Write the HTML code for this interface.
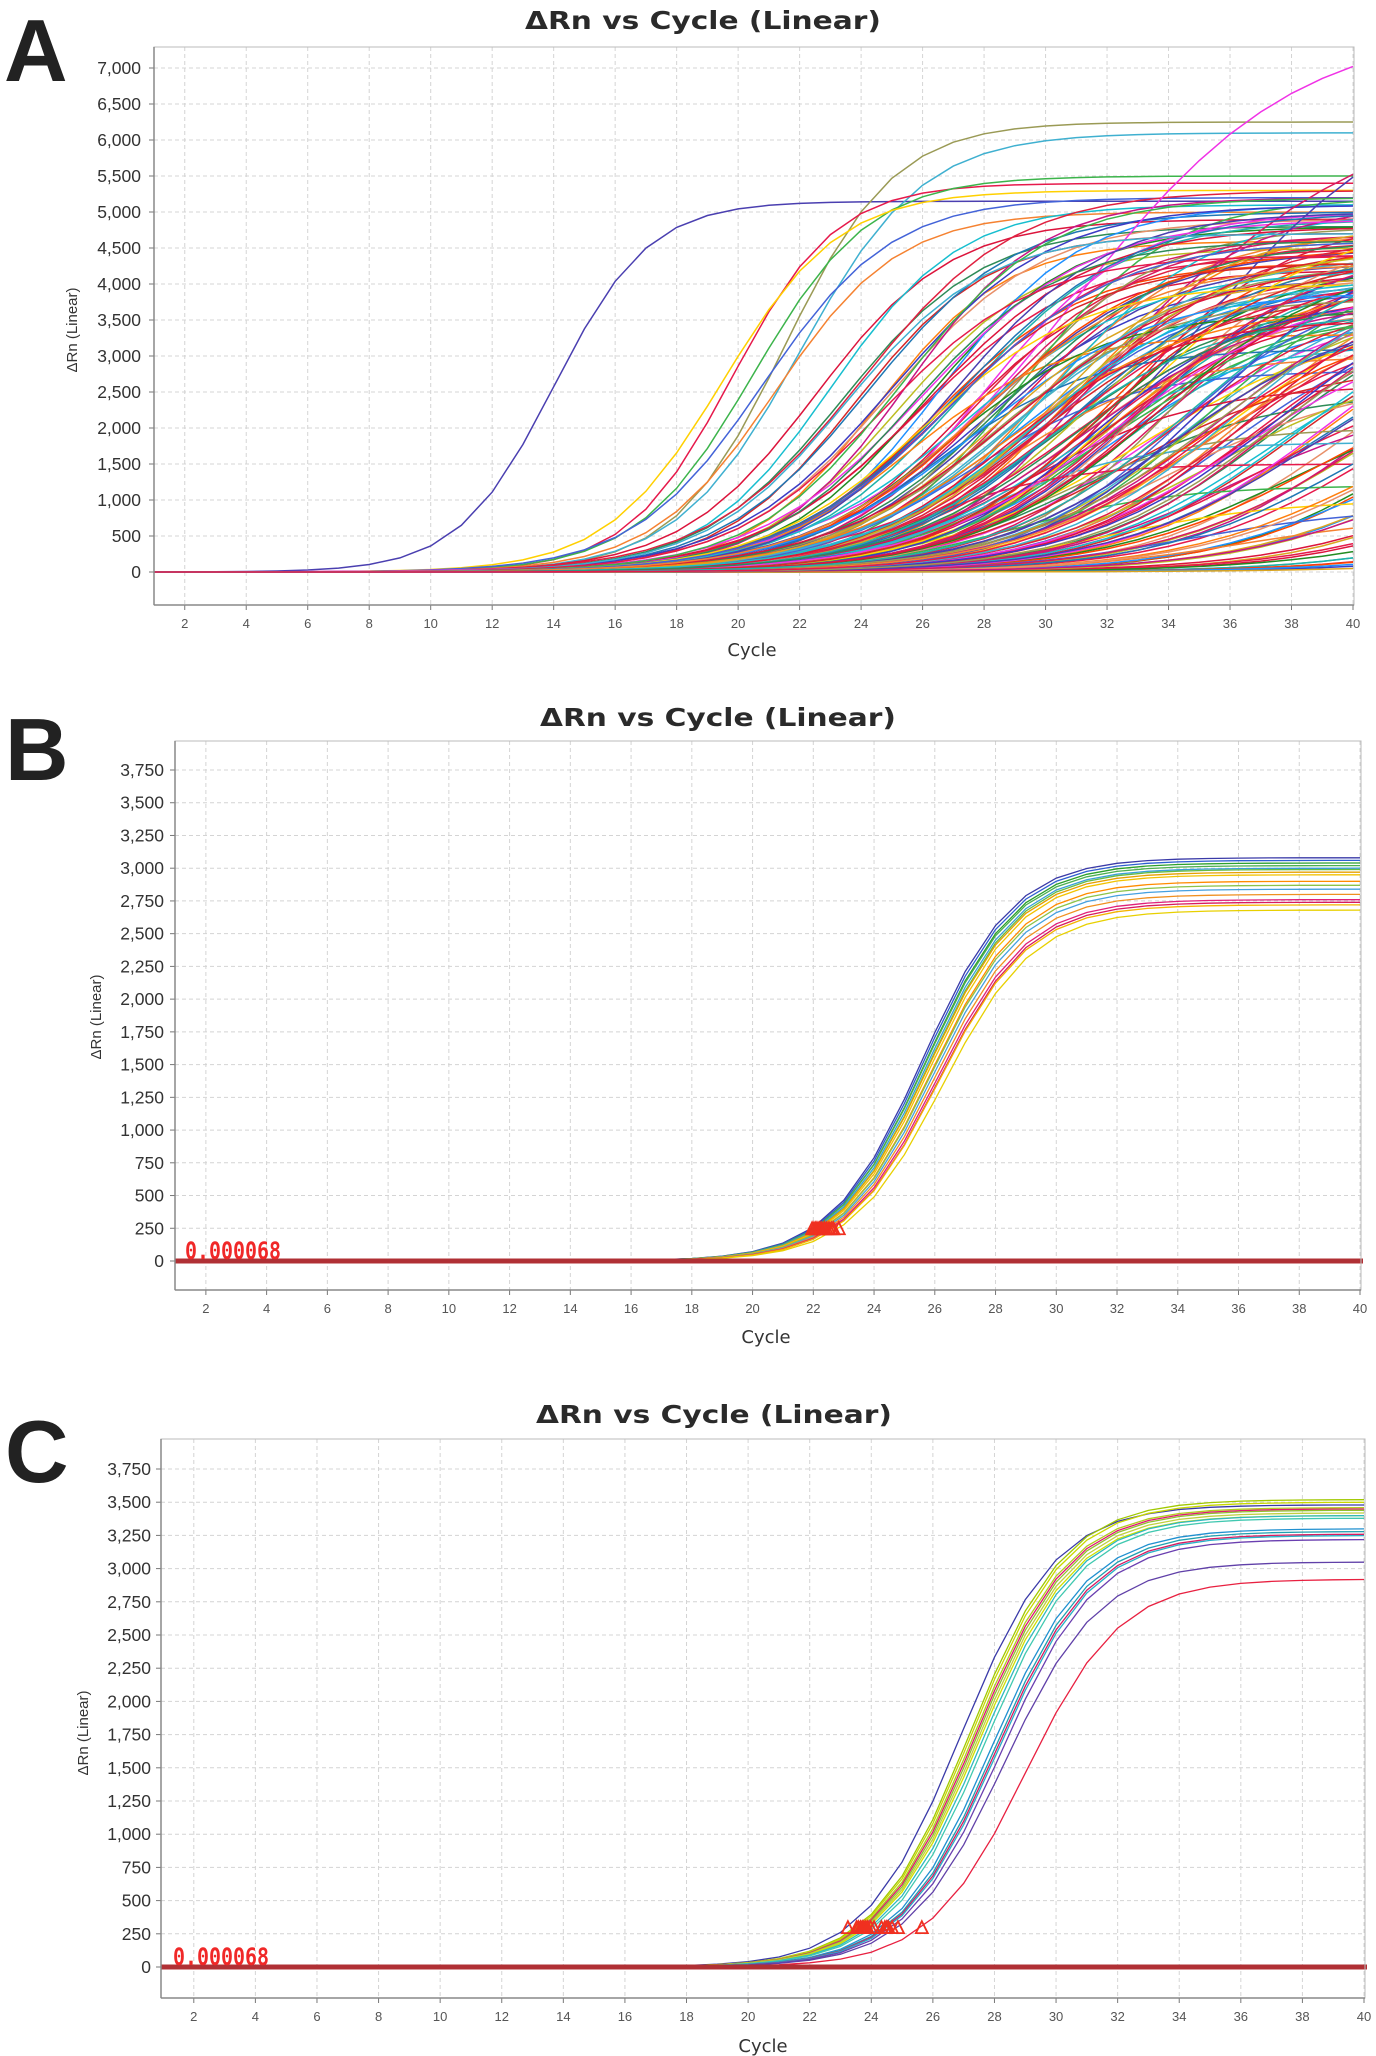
<!DOCTYPE html>
<html><head><meta charset="utf-8"><style>
html,body{margin:0;padding:0;background:#fff;}
svg{display:block;}
</style></head><body>
<svg id="fig" width="1376" height="2056" viewBox="0 0 1376 2056" xmlns="http://www.w3.org/2000/svg" font-family="Liberation Sans, sans-serif">
<rect width="1376" height="2056" fill="#fff"/>
</svg>
<script>
// ---------- Panel A data (per-curve sigmoid parameters) ----------
const yTicksA = [0,500,1000,1500,2000,2500,3000,3500,4000,4500,5000,5500,6000,6500,7000];
const xTickLabels = [2,4,6,8,10,12,14,16,18,20,22,24,26,28,30,32,34,36,38,40];
const ctA = [14.0,21.5,22.0,19.8,20.5,19.5,20.8,21.2,22.5,23.0,
23.4,23.8,24.2,24.5,24.9,25.2,25.5,25.8,26.1,26.3,
26.6,26.9,27.1,27.3,27.6,27.8,28.0,28.2,28.4,28.6,
28.8,29.0,29.2,29.4,29.5,29.7,29.9,30.1,30.3,30.5,
30.6,30.8,31.0,31.2,31.4,31.6,31.8,32.0,32.2,32.4,
32.6,32.8,33.0,33.2,33.5,33.8,34.1,34.4,34.7,35.0,
35.3,35.6,36.0,36.4,36.8,37.2,37.6,38.0,38.5,39.0,
39.5,40.0,40.6,41.2,42.0,43.0,44.0,45.5,47.0,49.0,
24.0,25.0,26.0,27.0,28.0,29.0,30.0,31.0,32.0,33.0,
27.5,28.5,29.5,30.5,31.5,32.5,26.5,25.5,34.0,35.5,
36.0,37.0,38.0,39.0,40.5,42.5,45.0,48.0,50.0,52.0,
31.0,33.0,35.0,30.0,28.0,26.0,29.0,32.0,34.5,36.5,
26.2,27.4,28.6,29.8,31.0,32.2,33.4,34.6,35.8,37.0,
26.8,28.0,29.2,30.4,31.6,32.8,34.0,35.2,36.4,37.6,
27.0,28.2,29.4,30.6,31.8,33.0,34.2,35.4,36.6,38.2,
25.6,26.4,27.2,28.8,29.6,30.2,31.2,32.6,33.6,34.8,
27.8,28.4,29.0,29.9,30.8,31.5,32.3,33.1,34.3,35.6,
23.5,24.6,25.3,26.0,26.9,27.7,28.7,29.7,30.9,31.9,
40.0,41.0,42.0,43.0,44.0,46.0,48.0,50.0,52.0,55.0,
33.3,34.9,36.2,37.8,39.2,40.8,38.8,37.4,36.1,35.1];
const plateauA = [5150,6250,6100,5400,5500,5300,5200,5000,4900,5100,
4800,4700,5000,4600,4900,4500,5200,4400,4800,4300,
5100,4600,4200,4900,4500,4100,5000,4700,4300,4800,
4000,4600,5200,4400,3900,4700,4200,5000,3800,4500,
4100,4800,3700,4400,5100,3900,4300,4600,3600,4200,
4900,3800,4100,4500,3700,4300,3600,4800,4000,3500,
4400,3900,3600,4200,3800,3400,4000,3700,3500,3900,
3600,3300,3800,3500,3200,3700,3400,3300,3600,3200,
5300,5100,4900,4700,4500,4300,4100,3900,3700,3500,
2800,3000,2600,3200,2500,2900,3100,3300,2700,3000,
2400,2800,2600,3000,2200,2500,2700,2400,2600,2300,
7600,6400,6800,2000,1800,1500,1200,1000,900,800,
4800,4200,4600,3900,4400,4100,4700,3800,4300,4000,
3600,4500,4000,4800,3700,4300,3900,4600,3500,4100,
5000,3800,4400,4100,3600,4900,4000,3700,4200,3900,
4600,4300,5000,3700,4100,4500,3800,4200,4400,3600,
3900,4100,4300,3600,4700,3800,4000,4500,3700,4200,
4700,4400,5200,4000,4600,4300,3500,4100,3800,4400,
3000,2800,3200,2600,3000,2700,2900,2500,2800,2600,
4200,4600,3900,4400,4100,3800,3600,4000,4300,3700];
const slopeA = [1.55,1.8,2.0,1.7,1.9,1.9,2.1,2.0,2.2,2.1,
2.3,2.2,2.4,2.1,2.5,2.3,2.2,2.6,2.4,2.5,
2.3,2.7,2.4,2.6,2.5,2.8,2.4,2.6,2.7,2.5,
2.8,2.6,2.4,2.9,2.7,2.5,2.8,2.6,3.0,2.7,
2.9,2.6,3.0,2.8,2.5,3.0,2.8,2.7,3.1,2.9,
2.6,3.0,2.8,2.9,3.1,2.8,3.0,2.7,3.0,3.2,
2.9,3.1,3.0,2.9,3.2,3.0,3.1,3.0,3.2,3.1,
3.0,3.2,3.1,3.3,3.0,3.2,3.3,3.1,3.2,3.3,
2.5,2.6,2.7,2.8,2.9,3.0,3.1,3.2,3.3,3.4,
2.6,2.7,2.8,2.9,3.0,3.1,2.5,2.4,3.2,3.3,
3.0,3.1,3.2,3.3,3.0,3.2,3.4,3.3,3.5,3.6,
3.6,3.8,3.5,2.5,2.4,2.3,2.6,2.8,3.0,3.0,
2.7,2.9,2.8,3.0,2.9,3.1,2.8,3.0,3.2,3.1,
2.6,2.8,3.0,2.7,2.9,3.1,3.0,2.8,3.2,3.0,
2.5,2.7,2.9,3.1,2.8,3.0,2.6,3.2,2.9,3.1,
2.4,2.6,2.8,3.0,2.7,2.9,3.1,2.8,3.0,3.2,
2.9,2.7,3.1,2.8,3.0,2.6,3.2,2.9,3.1,3.3,
2.3,2.5,2.4,2.6,2.7,2.8,2.6,2.9,3.0,2.8,
3.2,3.3,3.4,3.2,3.5,3.4,3.6,3.5,3.7,3.8,
3.0,3.2,3.1,3.3,3.2,3.4,3.3,3.1,3.0,2.9];

// ---------- Panel B data ----------
const yTicksB = [0,250,500,750,1000,1250,1500,1750,2000,2250,2500,2750,3000,3250,3500,3750];
const midB = [25.6,25.65,25.7,25.7,25.75,25.8,25.8,25.85,25.9,25.9,25.95,26.0,26.05,26.1,26.1,26.25];
const plateauB = [3080,3060,3040,3020,3000,2990,2970,2950,2900,2870,2840,2800,2760,2740,2720,2680];
const thresholdB = 250;

// ---------- Panel C data ----------
const yTicksC = yTicksB;
const midC = [26.9,27.2,27.25,27.3,27.35,27.4,27.45,27.5,27.6,27.7,27.9,28.0,28.05,28.1,28.2,28.3,29.0];
const plateauC = [3480,3520,3500,3460,3450,3440,3420,3400,3400,3380,3300,3280,3260,3250,3220,3050,2920];
const thresholdC = 300;
const thresholdLabel = "0.000068";

// ---------- drawing ----------
const NS = "http://www.w3.org/2000/svg";
const svg = document.getElementById('fig');
function mk(tag, attrs, parent){
  const e = document.createElementNS(NS, tag);
  for (const k in attrs) e.setAttribute(k, attrs[k]);
  (parent||svg).appendChild(e);
  return e;
}
const paletteA = ['#4a3fb0','#9a9a55','#3fb0d0','#e6194b','#3cb44b','#ffd000','#4363d8','#f58231','#dc143c','#17becf','#2e8b57','#d62728','#1f77b4','#ff7f0e','#e8906a','#bcbd22','#c71585','#e6194b','#228b22','#ff4500','#1e90ff','#daa520','#dc143c','#20b2aa','#e02040','#3b3bc4','#f032e6','#d81b60'];
const paletteB = ['#3a3aa8','#2e5fd0','#2ca02c','#4caf50','#3a9fd8','#66bb44','#e6a000','#f2c200','#ff8c00','#8bc34a','#45a0e0','#f09020','#e0207a','#d81b60','#f4b400','#e8d000'];
const paletteC = ['#3a3aa8','#a0c800','#c8d800','#b0cc20','#e01870','#90c030','#c0d040','#d0e000','#30b8c0','#40c8b0','#2090d0','#20a0b0','#d81b60','#28b0c8','#6a3fb0','#6040a8','#e82040'];

function panel(o){
  const g = mk('g', {});
  
  
  const X = c => o.x1 + (c-1)*(o.x40-o.x1)/39;
  const Y = v => o.y0 - v*(o.y0-o.yTop)/o.vTop;
  const L = mk('text', {x:o.letterX, y:o.letterY, 'font-size':88, 'font-weight':'bold', fill:'#222'}, g);
  L.textContent = o.letter;
  
  
  const T = mk('text', {x:o.titleX, y:o.titleY, 'font-size':25, 'font-weight':'bold', fill:'#2a2a2a', 'text-anchor':'middle', 'font-family':'DejaVu Sans, sans-serif', textLength:356, lengthAdjust:'spacingAndGlyphs'}, g);
  T.textContent = 'ΔRn vs Cycle (Linear)';
  
  
  const cid = 'clip'+o.letter;
  const cp = mk('clipPath', {id:cid}, g);
  mk('rect', {x:o.left, y:o.top, width:o.right-o.left, height:o.bottom-o.top}, cp);
  const grid = mk('g', {stroke:'#d4d4d4', 'stroke-width':1, 'stroke-dasharray':'4,3'}, g);
  
  
  xTickLabels.forEach(c => mk('line', {x1:X(c), x2:X(c), y1:o.top, y2:o.bottom}, grid));
  o.yTicks.forEach(v => mk('line', {x1:o.left, x2:o.right, y1:Y(v), y2:Y(v)}, grid));
  o.yTicks.forEach(v => {
    mk('line', {x1:o.left-5, x2:o.left, y1:Y(v), y2:Y(v), stroke:'#777'}, g);
    const t = mk('text', {x:o.yLabX, y:Y(v)+6, 'font-size':17.5, fill:'#333', 'text-anchor':'end'}, g);
    t.textContent = v.toLocaleString('en-US');
    
    
  });
  xTickLabels.forEach(c => {
    mk('line', {x1:X(c), x2:X(c), y1:o.bottom, y2:o.bottom+5, stroke:'#777'}, g);
    const t = mk('text', {x:X(c), y:o.xLabY, 'font-size':13, fill:'#555', 'text-anchor':'middle'}, g);
    t.textContent = c;
    
    
  });
  const xt = mk('text', {x:o.cycleX, y:o.cycleY, 'font-size':18, fill:'#333', 'text-anchor':'middle', 'font-family':'DejaVu Sans, sans-serif'}, g);
  xt.textContent = 'Cycle';
  
  
  const yt = mk('text', {x:0, y:0, 'font-size':15, fill:'#333', 'text-anchor':'middle', transform:`translate(${o.yTitleX},${o.yTitleY}) rotate(-90)`}, g);
  yt.textContent = 'ΔRn (Linear)';
  
  
  const lines = mk('g', {'clip-path':`url(#${cid})`, fill:'none'}, g);
  
  
  o.mids.forEach((m, i) => {
    const P = o.plateaus[i], s = o.slopes(i);
    let d = '';
    for (let c = 1; c <= 40; c++) {
      let v = P/(1+Math.exp(-(c-m)/s)) - P/(1+Math.exp(-(1-m)/s));
      d += (c===1?'M':'L') + X(c).toFixed(1) + ',' + Y(v).toFixed(1);
    }
    const p = mk('path', {d:d, stroke:o.palette[i % o.palette.length], 'stroke-width':o.sw}, lines);
    
    
  });
  if (o.threshold) {
    o.mids.forEach((m, i) => {
      const P = o.plateaus[i], s = o.slopes(i);
      const c = m - s*Math.log(P/o.threshold - 1);
      const cx = X(c), cy = Y(o.threshold);
      const tri = mk('path', {d:`M${cx-6},${cy+6}L${cx},${cy-6}L${cx+6},${cy+6}Z`, fill:'none', stroke:'#f03020', 'stroke-width':1.8}, g);
      
      
    });
    const th = mk('line', {x1:o.left, x2:o.right+2, y1:Y(0), y2:Y(0), stroke:'#b03035', 'stroke-width':5}, g);
    
    
    const tl = mk('text', {x:o.thX, y:Y(0)-2, 'font-size':24, 'font-weight':'bold', fill:'#f02828', 'font-family':'DejaVu Sans Mono, monospace', textLength:96, lengthAdjust:'spacingAndGlyphs'}, g);
    tl.textContent = thresholdLabel;
    
    
  }
  mk('rect', {x:o.left, y:o.top, width:o.right-o.left, height:o.bottom-o.top, fill:'none', stroke:'#bbb', 'stroke-width':1}, g);
  mk('line', {x1:o.left, x2:o.left, y1:o.top, y2:o.bottom, stroke:'#888', 'stroke-width':1.5}, g);
  mk('line', {x1:o.left, x2:o.right, y1:o.bottom, y2:o.bottom, stroke:'#888', 'stroke-width':1.5}, g);
}

panel({name:'panel-a', letter:'A', letterX:4, letterY:81, titleX:703, titleY:29,
  left:154, right:1354, top:47, bottom:605, x1:154, x40:1353, y0:572, yTop:68, vTop:7000,
  yTicks:yTicksA, yLabX:141, xLabY:628, cycleX:752, cycleY:656, yTitleX:77, yTitleY:330,
  mids:ctA, plateaus:plateauA, slopes:i=>slopeA[i], palette:paletteA, sw:1.5});
panel({name:'panel-b', letter:'B', letterX:5, letterY:780, titleX:718, titleY:726,
  left:175, right:1361, top:741, bottom:1290, x1:175.5, x40:1360, y0:1261, yTop:770, vTop:3750,
  yTicks:yTicksB, yLabX:164, xLabY:1313, cycleX:766, cycleY:1343, yTitleX:101, yTitleY:1017,
  mids:midB, plateaus:plateauB, slopes:i=>1.5, palette:paletteB, sw:1.3, threshold:thresholdB, thX:185});
panel({name:'panel-c', letter:'C', letterX:5, letterY:1482, titleX:714, titleY:1423,
  left:161, right:1365, top:1439, bottom:1998, x1:163, x40:1364, y0:1967, yTop:1469, vTop:3750,
  yTicks:yTicksC, yLabX:151, xLabY:2021, cycleX:763, cycleY:2052, yTitleX:88, yTitleY:1733,
  mids:midC, plateaus:plateauC, slopes:i=>1.55, palette:paletteC, sw:1.3, threshold:thresholdC, thX:173});
</script>
</body></html>
